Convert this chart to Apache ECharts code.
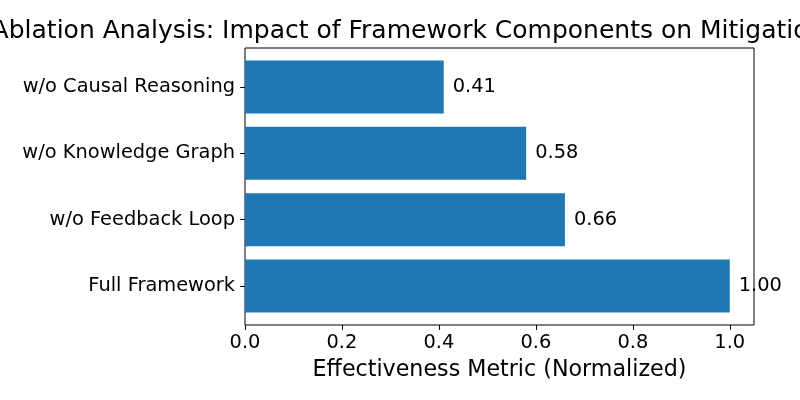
<!DOCTYPE html>
<html>
<head>
<meta charset="utf-8">
<script src="https://cdn.jsdelivr.net/npm/echarts@6/dist/echarts.min.js"></script>
<style>html,body{margin:0;padding:0;background:#fff}#c{width:800px;height:400px}</style>
</head>
<body>
<div id="c"></div>
<script>
const titleText = 'Ablation Analysis: Impact of Framework Components on Mitigation';
const xAxisName = 'Effectiveness Metric (Normalized)';
const categories = ['Full Framework', 'w/o Feedback Loop', 'w/o Knowledge Graph', 'w/o Causal Reasoning'];
const values = [1.00, 0.66, 0.58, 0.41];
const xTicks = [0, 0.2, 0.4, 0.6, 0.8, 1.0];
const xMin = 0, xMax = 1.05;

const FONT = 'DejaVu Sans';
const chart = echarts.init(document.getElementById('c'), null, {renderer: 'canvas'});
const plotLeft = 245, plotTop = 48, plotW = 509, plotH = 277;
// matplotlib ylim -0.59..3.59 ; categories at 0..3
const pxPerUnit = plotH / 4.18;
const g1Top = plotTop + 0.09 * pxPerUnit;
const g1H = 4 * pxPerUnit;
const TICK = 4.86;

chart.setOption({
  animation: false,
  graphic: [{
    type: 'text', x: 408, y: 19, z: 10,
    style: {text: titleText, font: '25px "DejaVu Sans"', fill: '#000', textAlign: 'center', textVerticalAlign: 'top'}
  }],
  grid: [
    {left: plotLeft, top: plotTop, width: plotW, height: plotH, show: true, borderColor: '#000', borderWidth: 1, backgroundColor: 'transparent'},
    {left: plotLeft, top: g1Top, width: plotW, height: g1H, show: false}
  ],
  xAxis: [
    {type: 'value', gridIndex: 0, min: xMin, max: xMax, interval: 0.2,
     splitLine: {show: false},
     axisLine: {show: false, onZero: false},
     axisTick: {show: true, length: TICK, lineStyle: {color: '#000', width: 1}, customValues: xTicks},
     axisLabel: {show: true, color: '#000', fontFamily: FONT, fontSize: 19.4, margin: 8.5, customValues: xTicks,
                 formatter: v => v.toFixed(1)},
     name: xAxisName, nameLocation: 'middle', nameGap: 34,
     nameTextStyle: {color: '#000', fontFamily: FONT, fontSize: 22.2}},
    {type: 'value', gridIndex: 1, min: xMin, max: xMax, show: false, axisLine: {onZero: false}}
  ],
  yAxis: [
    {type: 'value', gridIndex: 0, min: -0.59, max: 3.59, show: false, axisLine: {onZero: false}},
    {type: 'category', gridIndex: 1, data: categories,
     axisLine: {show: false, onZero: false},
     axisTick: {show: true, alignWithLabel: true, length: TICK, lineStyle: {color: '#000', width: 1}},
     axisLabel: {color: '#000', fontFamily: FONT, fontSize: 19.4, margin: 10},
     splitLine: {show: false}}
  ],
  series: [{
    type: 'bar', xAxisIndex: 1, yAxisIndex: 1,
    data: values, barWidth: '80%',
    itemStyle: {color: '#1f77b4'},
    label: {show: true, position: 'right', distance: 9, color: '#000', fontFamily: FONT, fontSize: 19.4,
            textBorderWidth: 0, textBorderColor: 'transparent',
            formatter: p => p.value.toFixed(2)}
  }]
});
</script>
</body>
</html>
